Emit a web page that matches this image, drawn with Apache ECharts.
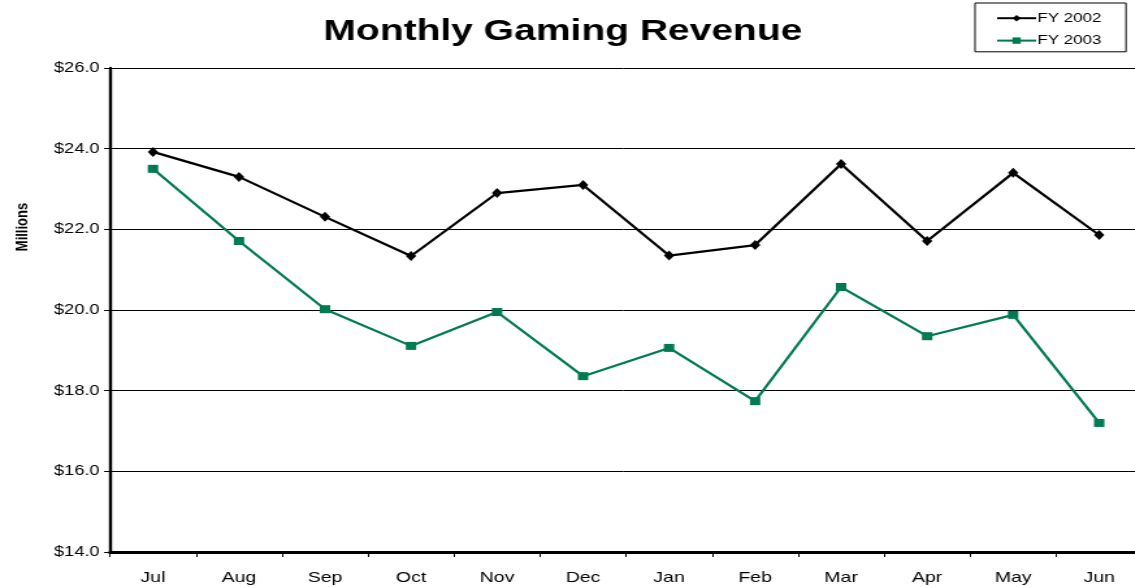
<!DOCTYPE html>
<html>
<head>
  <title>Monthly Gaming Revenue</title>
  <style>
    body { margin: 0; background: #ffffff; overflow: hidden; }
    /* the reference is drawn horizontally stretched, so the chart is laid out
       narrower and widened with a scaleX */
    #chart { width: 873px; height: 587px; transform: scaleX(1.3); transform-origin: 0 0; }
  </style>
</head>
<body>
  <div id="chart"></div>
  <script src="https://cdn.jsdelivr.net/npm/echarts@6/dist/echarts.min.js"></script>
  <script>
    // data (millions of dollars)
    var months = ['Jul', 'Aug', 'Sep', 'Oct', 'Nov', 'Dec', 'Jan', 'Feb', 'Mar', 'Apr', 'May', 'Jun'];
    var fy2002 = [23.92, 23.30, 22.31, 21.34, 22.90, 23.10, 21.35, 21.61, 23.62, 21.71, 23.40, 21.86];
    var fy2003 = [23.50, 21.71, 20.02, 19.11, 19.95, 18.36, 19.06, 17.74, 20.57, 19.35, 19.88, 17.20];

    var green = '#007a53';
    var chart = echarts.init(document.getElementById('chart'));

    var option = {
      animation: false,
      textStyle: { fontFamily: 'Liberation Sans, Arial, sans-serif' },
      title: {
        text: 'Monthly Gaming Revenue',
        left: 428,
        textAlign: 'center',
        top: 1,
        textStyle: { fontSize: 30, fontWeight: 'bold', color: '#000' }
      },
      legend: {
        orient: 'vertical',
        left: 750,
        top: 3,
        padding: [4, 19, 0, 16],
        itemGap: 0,
        itemWidth: 30,
        itemHeight: 8,
        borderColor: '#000',
        borderWidth: 1,
        textStyle: { fontSize: 13, lineHeight: 14, color: '#000', padding: [0, 0, 0, -4] },
        data: ['FY 2002', 'FY 2003']
      },
      grid: {
        left: 84.6,
        top: 68,
        width: 794,
        bottom: 35,
        outerBoundsMode: 'none'
      },
      graphic: [{
        type: 'text',
        x: 17,
        y: 227,
        rotation: Math.PI / 2,
        style: {
          text: 'Millions',
          fontSize: 13,
          fontWeight: 'bold',
          fontFamily: 'Liberation Sans, Arial, sans-serif',
          fill: '#000',
          align: 'center',
          verticalAlign: 'middle'
        }
      }],
      xAxis: {
        type: 'category',
        data: months,
        boundaryGap: true,
        axisLine: { lineStyle: { color: '#000', width: 3 } },
        axisTick: { show: true, length: 5, lineStyle: { color: '#000', width: 1 } },
        axisLabel: { fontSize: 15, color: '#000', margin: 13 },
        splitLine: { show: false }
      },
      yAxis: {
        type: 'value',
        min: 14,
        max: 26,
        interval: 2,
        axisLine: { show: true, lineStyle: { color: '#000', width: 2.4 } },
        axisTick: { show: true, length: 4.5, lineStyle: { color: '#000', width: 1 } },
        axisLabel: {
          fontSize: 14,
          color: '#000',
          margin: 8,
          formatter: function (v) { return '$' + v.toFixed(1); }
        },
        splitLine: { show: true, lineStyle: { color: '#000', width: 1 } }
      },
      series: [
        {
          name: 'FY 2002',
          type: 'line',
          data: fy2002,
          symbol: 'diamond',
          symbolSize: [8, 10],
          itemStyle: { color: '#000' },
          lineStyle: { color: '#000', width: 2.2 }
        },
        {
          name: 'FY 2003',
          type: 'line',
          data: fy2003,
          symbol: 'rect',
          symbolSize: [8, 8],
          itemStyle: { color: green },
          lineStyle: { color: green, width: 2.2 }
        }
      ]
    };

    chart.setOption(option);
  </script>
</body>
</html>
